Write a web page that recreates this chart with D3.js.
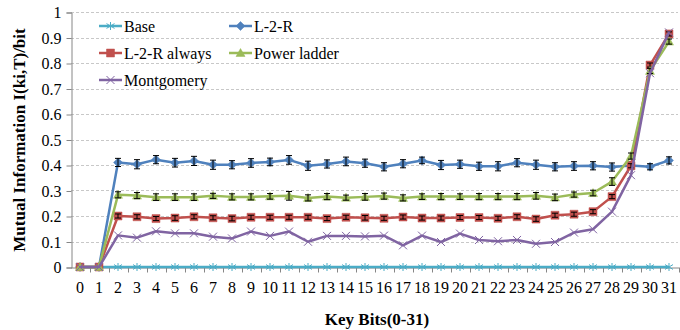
<!DOCTYPE html>
<html>
<head>
<meta charset="utf-8">
<script src="https://cdn.jsdelivr.net/npm/d3@7"></script>
<style>
body { margin: 0; background: #fff; }
</style>
</head>
<body>
<svg id="chart" width="680" height="330"></svg>
<script>
var FONT = "'Liberation Serif', 'Times New Roman', serif";

// key bits 0..31
var bits = [0,1,2,3,4,5,6,7,8,9,10,11,12,13,14,15,16,17,18,19,20,21,22,23,24,25,26,27,28,29,30,31];
var yTicks = [0,0.1,0.2,0.3,0.4,0.5,0.6,0.7,0.8,0.9,1];

var base = [0,0,0,0,0,0,0,0,0,0,0,0,0,0,0,0,0,0,0,0,0,0,0,0,0,0,0,0,0,0,0,0];
var l2r = [0,0,0.41,0.403,0.421,0.409,0.416,0.401,0.401,0.408,0.412,0.42,0.397,0.404,0.414,0.407,
           0.393,0.405,0.418,0.4,0.403,0.395,0.395,0.409,0.401,0.393,0.396,0.397,0.392,0.398,0.393,0.418];
var l2rErr = [0,0,0.016,0.018,0.016,0.017,0.018,0.018,0.016,0.017,0.015,0.017,0.018,0.016,0.017,0.016,
              0.016,0.016,0.013,0.018,0.016,0.016,0.018,0.016,0.018,0.016,0.017,0.016,0.016,0.014,0.012,0.014];
var l2rAlways = [0,0,0.2,0.197,0.19,0.192,0.197,0.193,0.19,0.195,0.195,0.195,0.195,0.19,0.195,0.193,
                 0.191,0.196,0.192,0.192,0.194,0.194,0.191,0.197,0.188,0.203,0.207,0.217,0.276,0.397,0.792,0.914];
var l2rAlwaysErr = [0,0,0.008,0.008,0.008,0.009,0.008,0.008,0.009,0.008,0.008,0.008,0.008,0.008,0.008,0.009,
                    0.008,0.008,0.008,0.008,0.008,0.008,0.008,0.008,0.009,0.008,0.008,0.008,0.008,0.008,0.008,0.008];
var powerLadder = [0,0,0.283,0.28,0.274,0.274,0.274,0.279,0.275,0.275,0.277,0.279,0.271,0.276,0.272,0.275,
                   0.278,0.271,0.276,0.276,0.276,0.276,0.276,0.276,0.279,0.273,0.284,0.29,0.335,0.435,0.769,0.884];
var powerLadderErr = [0,0,0.012,0.012,0.013,0.013,0.013,0.01,0.012,0.012,0.011,0.017,0.012,0.012,0.01,0.013,
                      0.012,0.012,0.011,0.012,0.011,0.012,0.012,0.012,0.013,0.013,0.01,0.011,0.015,0.012,0.01,0.01];
var montgomery = [0,0,0.124,0.115,0.14,0.132,0.132,0.119,0.112,0.139,0.122,0.139,0.099,0.122,0.122,0.12,
                  0.123,0.085,0.123,0.098,0.131,0.106,0.101,0.106,0.091,0.098,0.135,0.148,0.217,0.36,0.76,0.92];

var series = [
  {name: "Base", values: base, err: null, color: "#4BACC6", marker: "asterisk"},
  {name: "L-2-R", values: l2r, err: l2rErr, color: "#4F81BD", marker: "diamond"},
  {name: "L-2-R always", values: l2rAlways, err: l2rAlwaysErr, color: "#C0504D", marker: "square"},
  {name: "Power ladder", values: powerLadder, err: powerLadderErr, color: "#9BBB59", marker: "triangle"},
  {name: "Montgomery", values: montgomery, err: null, color: "#8064A2", marker: "times"}
];

var svg = d3.select("#chart");

var xScale = d3.scaleBand()
    .domain(bits)
    .range([70.5, 678.5]);
var bw = xScale.bandwidth();
var cx = function(b) { return xScale(b) + bw / 2; };

var yScale = d3.scaleLinear()
    .domain([0, 1])
    .range([267, 12]);

// marker paths
var markerPath = function(type, s) {
  var h = s / 2;
  if (type == "diamond") return "M0," + (-h) + "L" + h + ",0L0," + h + "L" + (-h) + ",0Z";
  if (type == "square") return "M" + (-h) + "," + (-h) + "H" + h + "V" + h + "H" + (-h) + "Z";
  if (type == "triangle") return "M0," + (-h - 0.5) + "L" + (h + 0.5) + "," + (h - 0.5) + "L" + (-h - 0.5) + "," + (h - 0.5) + "Z";
  if (type == "times") return "M" + (-h) + "," + (-h) + "L" + h + "," + h + "M" + h + "," + (-h) + "L" + (-h) + "," + h;
  // asterisk
  return "M0," + (-h) + "V" + h + "M" + (-h) + "," + (-h * 0.6) + "L" + h + "," + (h * 0.6) +
         "M" + h + "," + (-h * 0.6) + "L" + (-h) + "," + (h * 0.6);
};
var isStroke = function(type) { return type == "times" || type == "asterisk"; };

// gridlines
svg.append("g")
  .selectAll("line")
  .data(yTicks.slice(1))
  .enter()
  .append("line")
  .attr("x1", 71)
  .attr("x2", 678)
  .attr("y1", function(d) { return Math.round(yScale(d)) + 0.5; })
  .attr("y2", function(d) { return Math.round(yScale(d)) + 0.5; })
  .attr("stroke", "#c8c8c8")
  .attr("stroke-dasharray", "3,2");

// y axis
var yAxis = d3.axisLeft(yScale)
    .tickValues(yTicks)
    .tickSize(5)
    .tickPadding(5)
    .tickFormat(function(d) { return String(d); });
var yg = svg.append("g")
    .attr("transform", "translate(71.5,0.5)")
    .call(yAxis);
yg.select(".domain").attr("stroke", "#868686");
yg.selectAll(".tick line").attr("stroke", "#868686");
yg.selectAll(".tick text")
  .style("font-family", FONT)
  .style("font-size", "16px")
  .attr("fill", "#000");

// x axis
var xAxis = d3.axisBottom(xScale)
    .tickSize(0)
    .tickPadding(14);
var xg = svg.append("g")
    .attr("transform", "translate(0,267.5)")
    .call(xAxis);
xg.select(".domain").attr("stroke", "#868686");
xg.selectAll(".tick text")
  .style("font-family", FONT)
  .style("font-size", "16px")
  .attr("fill", "#000");
// tick marks on the category boundaries
xg.append("g")
  .selectAll("line")
  .data(bits)
  .enter()
  .append("line")
  .attr("x1", function(d) { return Math.round(xScale(d) + bw) + 0.5; })
  .attr("x2", function(d) { return Math.round(xScale(d) + bw) + 0.5; })
  .attr("y1", 0)
  .attr("y2", 5)
  .attr("stroke", "#868686");

// series
var line = d3.line()
    .x(function(d, i) { return cx(bits[i]); })
    .y(function(d) { return yScale(d); });

series.forEach(function(s) {
  var g = svg.append("g").attr("class", "series");
  g.append("path")
    .datum(s.values)
    .attr("d", line)
    .attr("fill", "none")
    .attr("stroke", s.color)
    .attr("stroke-width", 2.5)
    .attr("stroke-linejoin", "round");

  g.selectAll(".mk")
    .data(s.values)
    .enter()
    .append("path")
    .attr("class", "mk")
    .attr("transform", function(d, i) { return "translate(" + cx(bits[i]) + "," + yScale(d) + ")"; })
    .attr("d", markerPath(s.marker, s.marker == "diamond" ? 9 : 8))
    .attr("fill", isStroke(s.marker) ? "none" : s.color)
    .attr("stroke", s.color)
    .attr("stroke-width", isStroke(s.marker) ? 1 : 0.5);

  if (s.err) {
    g.selectAll(".eb")
      .data(s.values)
      .enter()
      .append("path")
      .attr("class", "eb")
      .attr("d", function(d, i) {
        if (!(s.err[i] > 0)) return null;
        var x = cx(bits[i]);
        var y1 = yScale(d + s.err[i]), y2 = yScale(d - s.err[i]);
        return "M" + x + "," + y1 + "V" + y2 +
               "M" + (x - 3) + "," + y1 + "H" + (x + 3) +
               "M" + (x - 3) + "," + y2 + "H" + (x + 3);
      })
      .attr("fill", "none")
      .attr("stroke", "#000")
      .attr("stroke-width", 1);
  }
});

// legend
var legendPos = [[99, 26], [229, 26], [99, 53], [229, 53], [99, 80]];
var legend = svg.append("g").attr("class", "legend");
series.forEach(function(s, i) {
  var p = legendPos[i];
  var lg = legend.append("g").attr("transform", "translate(" + p[0] + "," + p[1] + ")");
  lg.append("line")
    .attr("x1", 0).attr("x2", 23)
    .attr("y1", 0).attr("y2", 0)
    .attr("stroke", s.color)
    .attr("stroke-width", 2.5);
  lg.append("path")
    .attr("transform", "translate(11.5,0)")
    .attr("d", markerPath(s.marker, s.marker == "diamond" ? 9 : 8))
    .attr("fill", isStroke(s.marker) ? "none" : s.color)
    .attr("stroke", s.color)
    .attr("stroke-width", isStroke(s.marker) ? 1 : 0.5);
  lg.append("text")
    .text(s.name)
    .attr("x", 25)
    .attr("y", 5.5)
    .style("font-family", FONT)
    .style("font-size", "16px");
});

// titles
svg.append("text")
  .text("Key Bits(0-31)")
  .attr("x", 377)
  .attr("y", 325)
  .attr("text-anchor", "middle")
  .style("font-family", FONT)
  .style("font-weight", "bold")
  .style("font-size", "17px");

svg.append("text")
  .text("Mutual Information I(ki,T)/bit")
  .attr("transform", "translate(25,140) rotate(-90)")
  .attr("text-anchor", "middle")
  .style("font-family", FONT)
  .style("font-weight", "bold")
  .style("font-size", "17px");
</script>
</body>
</html>
